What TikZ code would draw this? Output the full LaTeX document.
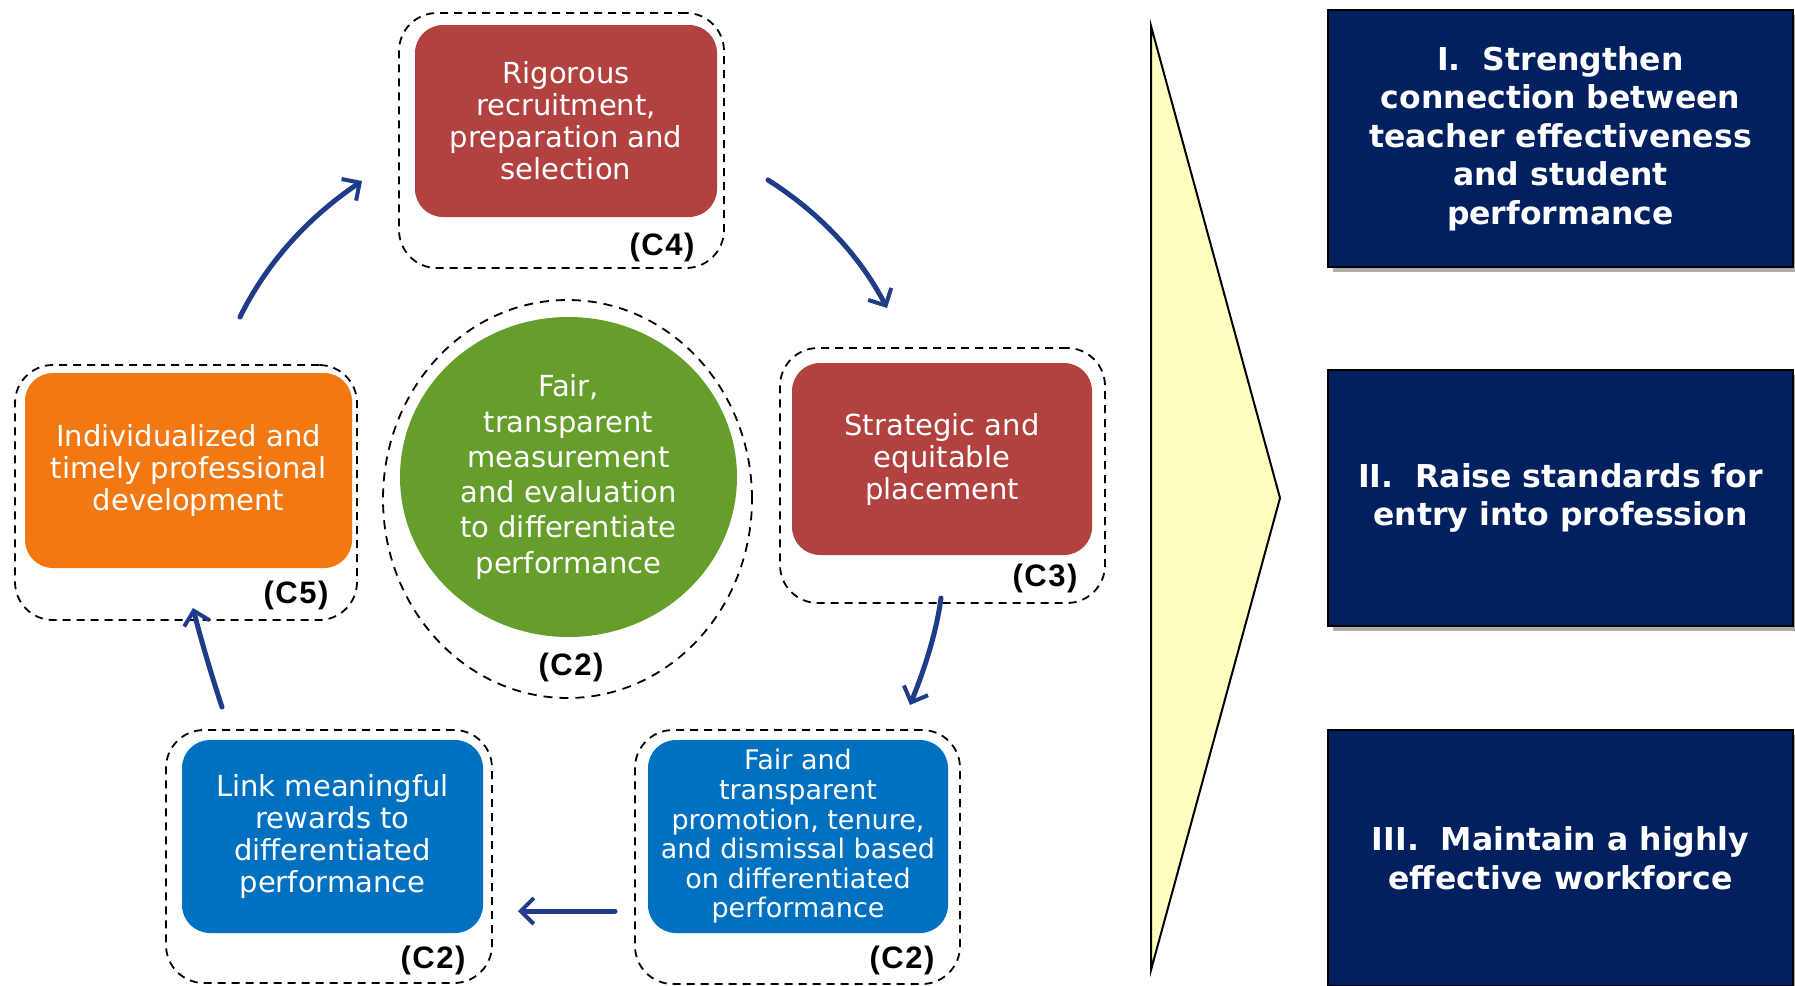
\documentclass[tikz,border=0pt]{standalone}
\usepackage{fontspec}
\setmainfont{DejaVu Sans}
\newfontfamily\lblfont[LetterSpace=5]{Liberation Sans}
\usetikzlibrary{shapes.geometric,arrows.meta,shadows}
\definecolor{cred}{HTML}{B24240}
\definecolor{corange}{HTML}{F27814}
\definecolor{cblue}{HTML}{0070C0}
\definecolor{cgreen}{HTML}{669E2C}
\definecolor{cnavy}{HTML}{002060}
\definecolor{cyellow}{HTML}{FFFFC0}
\definecolor{carrow}{HTML}{1F3C88}
\begin{document}
\begin{tikzpicture}[x=1pt,y=-1pt,
  filled/.style={rounded corners=28pt, text=white, align=center, inner sep=0pt,
    font=\fontsize{29}{32}\selectfont},
  dbox/.style={draw=black, dash pattern=on 8pt off 6pt, line width=1.8pt,
    rounded corners=38pt, inner sep=0pt},
  lbl/.style={font=\lblfont\bfseries\fontsize{31}{31}\selectfont, inner sep=0pt},
  navybox/.style={fill=cnavy, draw=black, line width=2pt, text=white, align=center,
    inner sep=0pt, minimum width=465pt, font=\bfseries\fontsize{31.5}{38.5}\selectfont,
    drop shadow={shadow xshift=5pt, shadow yshift=-5pt, fill=gray!65, opacity=1}},
  cyc/.style={draw=carrow, line width=5pt, line cap=round,
    -{Straight Barb[length=13pt,width=26pt,line width=4pt]}}]
\path[use as bounding box] (0,0) rectangle (1795,985);
\clip (0,0) rectangle (1795,985);

% dashed outer frames
\node[dbox, minimum width=325pt, minimum height=255pt] (o4) at (561.5,140.5) {};
\node[dbox, minimum width=325pt, minimum height=255pt] (o3) at (942.5,475.5) {};
\node[dbox, minimum width=325pt, minimum height=254pt] (o2r) at (797.5,857) {};
\node[dbox, minimum width=326pt, minimum height=253pt] (o2l) at (329,856.5) {};
\node[dbox, minimum width=342pt, minimum height=255pt] (o5) at (186,492.5) {};
\node[draw=black, dash pattern=on 9pt off 7pt, line width=1.8pt, ellipse,
  inner sep=0pt, minimum width=369pt, minimum height=398pt] (oc) at (567.5,499) {};

% filled boxes
\node[filled, fill=cred, minimum width=302pt, minimum height=192pt] (c4) at (566,121)
  {Rigorous\\recruitment,\\preparation and\\selection};
\node[filled, fill=cred, minimum width=300pt, minimum height=192pt] (c3) at (942,459)
  {Strategic and\\equitable\\placement};
\node[filled, fill=cblue, minimum width=300pt, minimum height=193pt,
  font=\fontsize{27}{29.6}\selectfont] (c2r) at (798,836.5)
  {Fair and\\transparent\\promotion, tenure,\\and dismissal based\\on differentiated\\performance};
\node[filled, fill=cblue, minimum width=301pt, minimum height=193pt] (c2l) at (332.5,836.5)
  {Link meaningful\\rewards to\\differentiated\\performance};
\node[filled, fill=corange, minimum width=327pt, minimum height=195pt] (c5) at (188.5,470.5)
  {Individualized and\\timely professional\\development};
\node[ellipse, fill=cgreen, text=white, align=center, inner sep=0pt,
  minimum width=337pt, minimum height=320pt, font=\fontsize{29}{35.3}\selectfont] (cc) at (568.5,477)
  {Fair,\\transparent\\measurement\\and evaluation\\to differentiate\\performance};

% labels
\node[lbl] (l4) at (662,247) {(C4)};
\node[lbl] (l3) at (1045,578) {(C3)};
\node[lbl] (l2r) at (902,960) {(C2)};
\node[lbl] (l2l) at (433,960) {(C2)};
\node[lbl] (l5) at (296,595) {(C5)};
\node[lbl] (lc) at (571,667) {(C2)};

% cycle arrows
\coordinate (a1s) at (240,317); \coordinate (a1e) at (362,181);
\coordinate (a2s) at (768,180); \coordinate (a2e) at (887,308);
\coordinate (a3s) at (941,598); \coordinate (a3e) at (910,705);
\coordinate (a4s) at (615,911); \coordinate (a4e) at (518,911);
\coordinate (a5s) at (222,707); \coordinate (a5e) at (193,608);
\draw[cyc] (a1s) .. controls (266,264) and (307,218) .. (a1e);
\draw[cyc] (a2s) .. controls (820,213) and (860,256) .. (a2e);
\draw[cyc] (a3s) .. controls (937,628) and (927,663) .. (a3e);
\draw[cyc] (a4s) -- (a4e);
\draw[cyc] (a5s) .. controls (213,680) and (201,640) .. (a5e);

% big chevron
\draw[fill=cyellow, line width=2pt, line join=miter] (1151,26) -- (1280,498) -- (1151,970) -- cycle;

% goal boxes
\node[navybox, minimum height=257pt] (b1) at (1560.5,138.5)
  {I.\ \ Strengthen\\connection between\\teacher effectiveness\\and student\\performance};
\node[navybox, minimum height=256pt] (b2) at (1560.5,498)
  {II.\ \ Raise standards for\\entry into profession};
\node[navybox, minimum height=256pt] (b3) at (1560.5,858)
  {III.\ \ Maintain a highly\\effective workforce};
\end{tikzpicture}
\end{document}
